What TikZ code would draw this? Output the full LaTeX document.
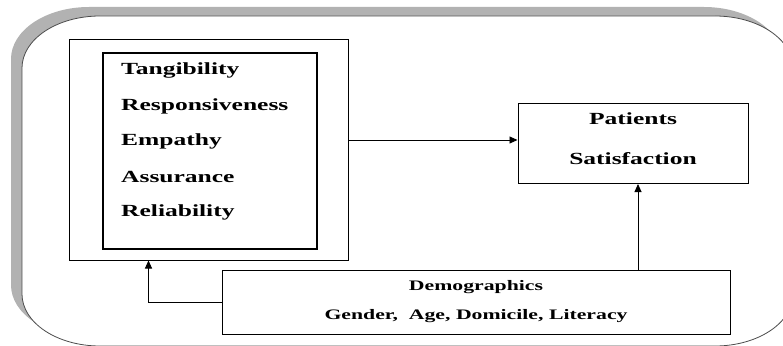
\documentclass[tikz,border=0pt]{standalone}
\usepackage{fontspec}
\newfontfamily\diagfont{Liberation Serif}[FakeStretch=1.5]
\usetikzlibrary{positioning,arrows.meta}

\newcommand\panelpath{(22,68) .. controls (22,39.3) and (56.9,16) .. (100,16)
  -- (715,16) .. controls (758.1,16) and (793,39.3) .. (793,68)
  -- (793,294) .. controls (793,322.7) and (758.1,346) .. (715,346)
  -- (100,346) .. controls (56.9,346) and (22,322.7) .. (22,294) -- cycle}

\begin{document}
\begin{tikzpicture}[
    x=1pt, y=-1pt,
    bigfont/.style={font=\diagfont\bfseries\fontsize{17}{40}\selectfont},
    smallfont/.style={font=\diagfont\bfseries\fontsize{14.5}{30}\selectfont},
    panelshadow/.style={fill=black!30},
    panel/.style={draw=black!70, line width=0.8pt, fill=white},
    box/.style={draw, line width=1pt, inner sep=0pt},
    thickbox/.style={draw, line width=2.2pt, inner sep=0pt},
    item/.style={bigfont, anchor=west, inner sep=0pt},
    arr/.style={-{Triangle[length=8pt, width=7pt]}, line width=0.9pt}
]
\useasboundingbox (0,0) rectangle (783,345);
\clip (0,0) rectangle (783,345);

% background panel
\begin{scope}[shift={(-11,-9)}]
  \fill[panelshadow] \panelpath;
\end{scope}
\filldraw[panel] \panelpath;

% service quality dimensions
\node[box, minimum width=279pt, minimum height=220pt] (quality) at (208.5,150) {};
\node[thickbox, minimum width=214pt, minimum height=196pt] (dims) at (210,151) {};
\node[item] (tang) at (121,70) {Tangibility};
\node[item] (resp) at (121,106) {Responsiveness};
\node[item] (emp) at (121,141) {Empathy};
\node[item] (assur) at (121,177) {Assurance};
\node[item] (relia) at (121,212) {Reliability};

% outcome and moderator
\node[box, minimum width=230pt, minimum height=80pt] (satis) at (633,143.5) {};
\node[bigfont, align=center] (satistext) at (633,138.5) {Patients\\Satisfaction};
\node[box, smallfont, align=center, minimum width=508pt, minimum height=64pt] (demo) at (476,302) {Demographics\\[-1pt]Gender,\ \ Age, Domicile, Literacy};

\draw[arr] ([yshift=10pt]quality.east) -- ([yshift=10pt]quality.east -| satis.west);
\draw[arr] ([xshift=5pt]satis.south |- demo.north) -- ([xshift=5pt]satis.south);
\draw[arr] (demo.west) -| ([xshift=-60pt]quality.south);
\end{tikzpicture}
\end{document}
